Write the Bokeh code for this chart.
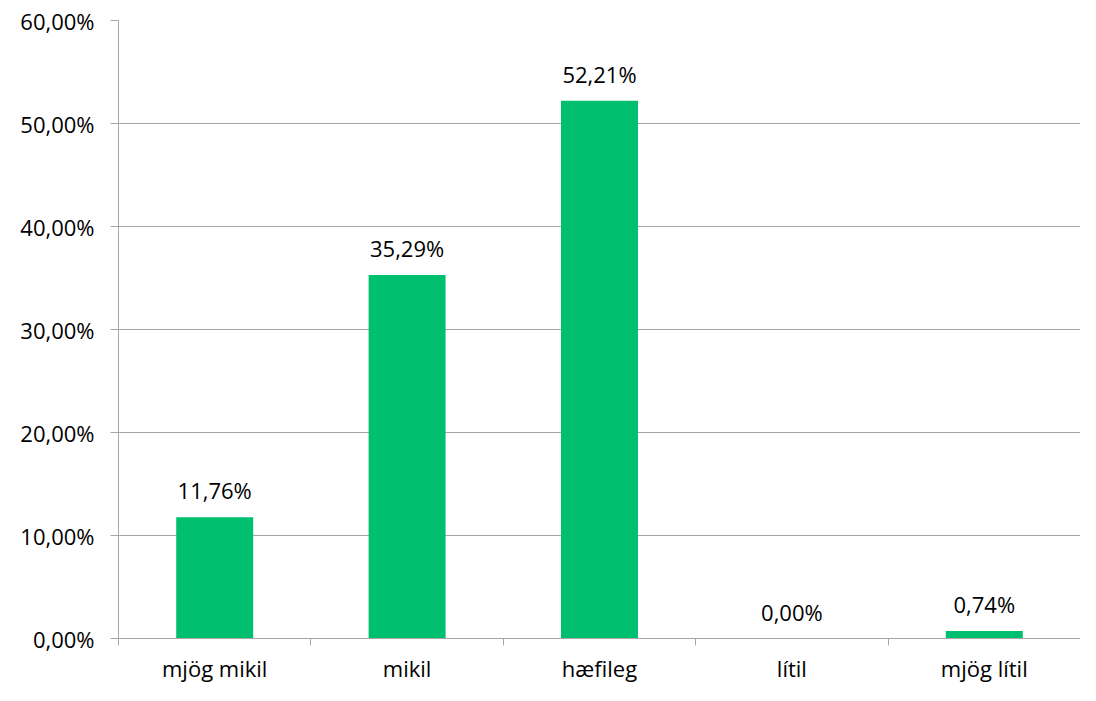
from bokeh.plotting import figure
from bokeh.models import ColumnDataSource, FixedTicker
from bokeh.core.properties import value
from bokeh.embed import file_html
from bokeh.resources import INLINE

categories = ["mjög mikil", "mikil", "hæfileg", "lítil", "mjög lítil"]
values = [0.1176, 0.3529, 0.5221, 0.0, 0.0074]
value_labels = ["11,76%", "35,29%", "52,21%", "0,00%", "0,74%"]
y_ticks = [0.0, 0.1, 0.2, 0.3, 0.4, 0.5, 0.6]
y_tick_labels = ["0,00%", "10,00%", "20,00%", "30,00%", "40,00%", "50,00%", "60,00%"]

FONT = "Open Sans"
FS = "22px"
GREEN = "#00BF6F"
GRID = "#A6A6A6"

xs = [i + 0.5 for i in range(len(categories))]
src = ColumnDataSource(dict(x=xs, top=values, lab=value_labels))

p = figure(width=1080, height=685, output_backend="svg", toolbar_location=None,
           x_range=(0, len(categories)), y_range=(0, 0.6),
           min_border_left=118, min_border_right=0, min_border_top=20, min_border_bottom=20)
p.outline_line_color = None
p.background_fill_color = "white"

p.vbar(x="x", top="top", width=0.4, source=src, color=GREEN, line_color=None)
p.text(x="x", y="top", text="lab", source=src, text_align="center", text_baseline="bottom",
       y_offset=-12, text_font=value(FONT), text_font_size=FS, text_color="#000000")

# y axis
p.yaxis.ticker = FixedTicker(ticks=y_ticks)
p.yaxis.major_label_overrides = {t: l for t, l in zip(y_ticks, y_tick_labels)}
p.yaxis.major_label_text_font = FONT
p.yaxis.major_label_text_font_size = FS
p.yaxis.major_label_text_color = "#000000"
p.yaxis.axis_line_color = GRID
p.yaxis.major_tick_line_color = GRID
p.yaxis.major_tick_out = 8
p.yaxis.major_tick_in = 0
p.yaxis.minor_tick_line_color = None
p.yaxis.major_label_standoff = 16

# x axis
p.xaxis.ticker = FixedTicker(ticks=xs, minor_ticks=list(range(len(categories) + 1)))
p.xaxis.major_label_overrides = {x: c for x, c in zip(xs, categories)}
p.xaxis.major_label_text_font = FONT
p.xaxis.major_label_text_font_size = FS
p.xaxis.major_label_text_color = "#000000"
p.xaxis.axis_line_color = GRID
p.xaxis.major_tick_line_color = None
p.xaxis.major_tick_out = 0
p.xaxis.major_tick_in = 0
p.xaxis.minor_tick_line_color = GRID
p.xaxis.minor_tick_out = 7
p.xaxis.minor_tick_in = 0
p.xaxis.major_label_standoff = 7

p.xgrid.grid_line_color = None
p.ygrid.grid_line_color = GRID
p.ygrid.ticker = FixedTicker(ticks=y_ticks)

open("out.html", "w").write(file_html(p, INLINE))
